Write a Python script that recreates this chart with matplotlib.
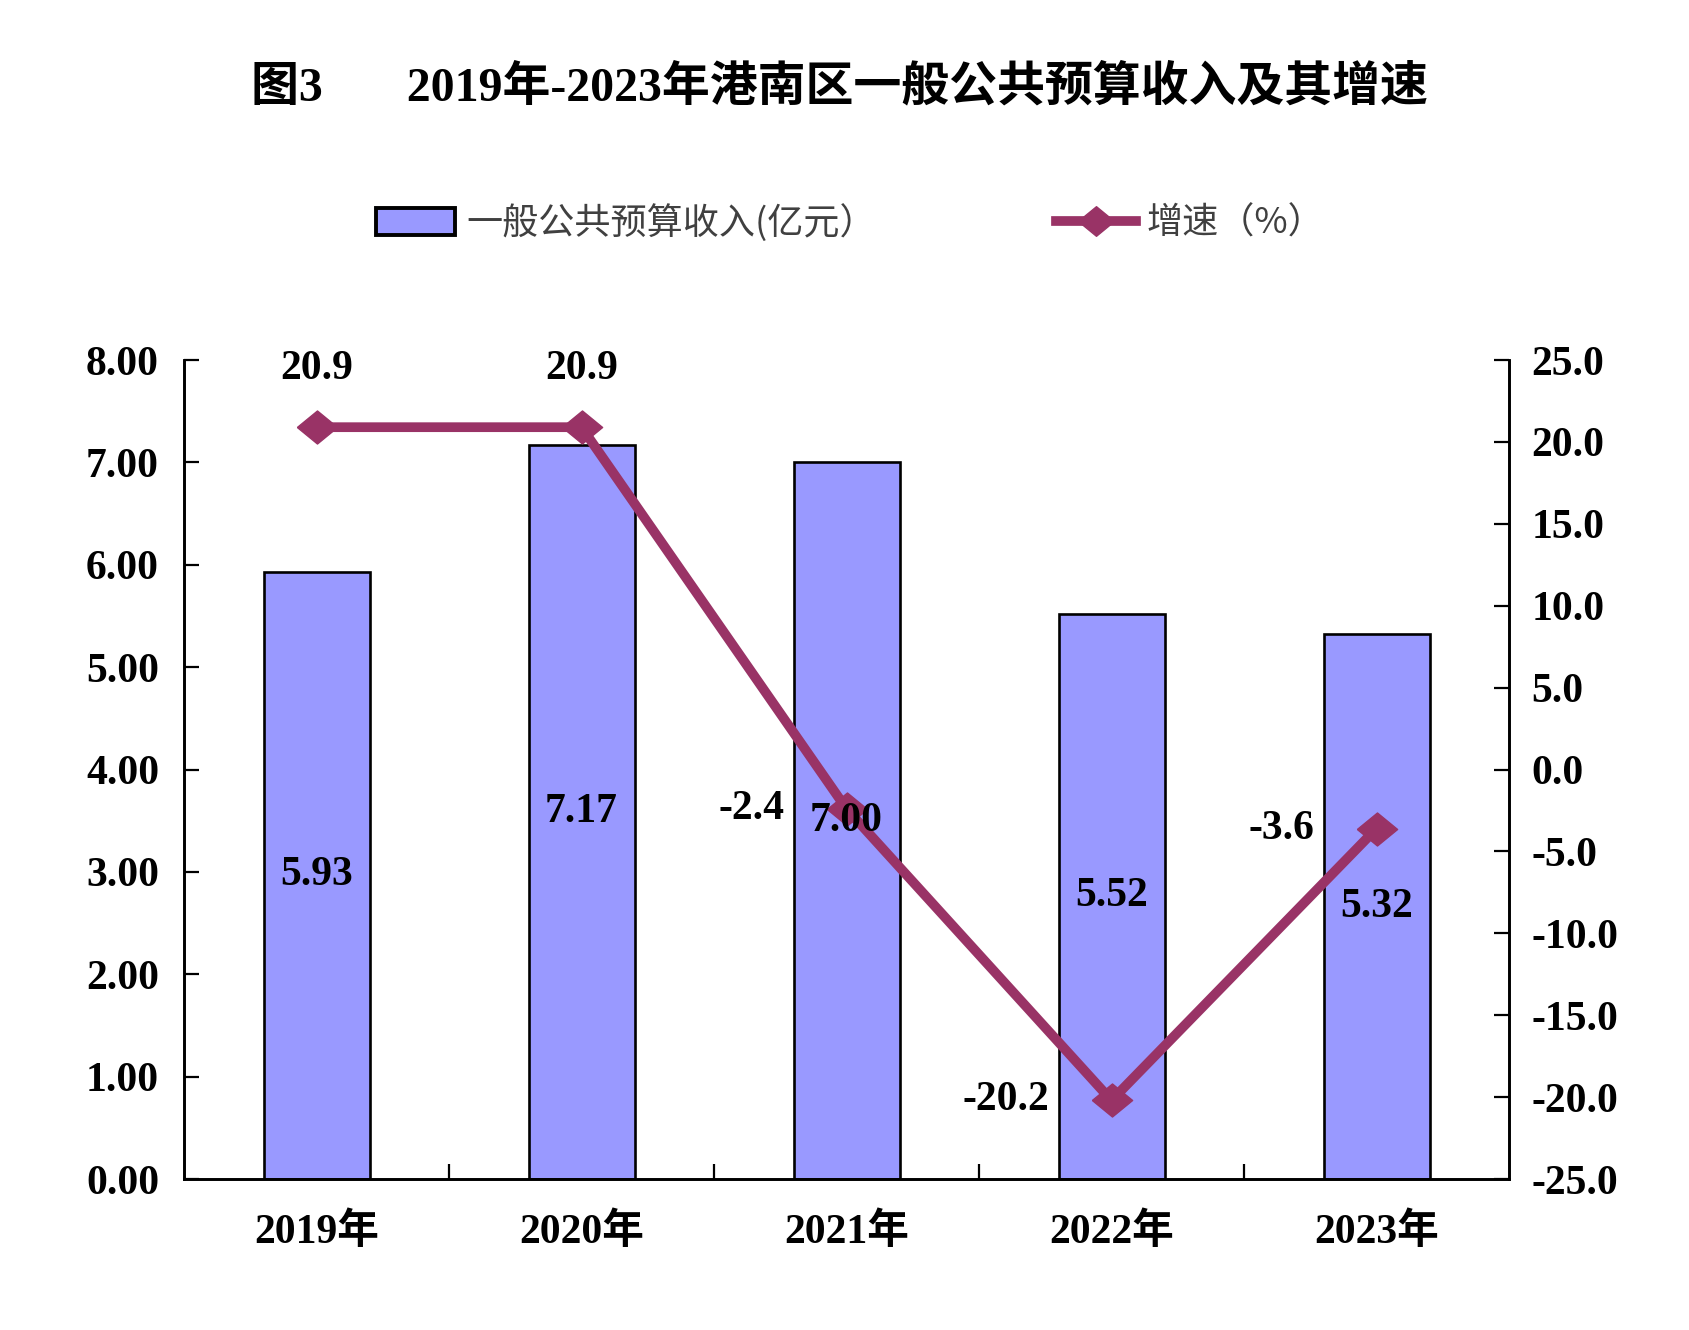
import numpy as np
import matplotlib
matplotlib.use("Agg")
import matplotlib.pyplot as plt
from matplotlib.patches import Patch
from matplotlib.lines import Line2D

years = ["2019年", "2020年", "2021年", "2022年", "2023年"]
revenue = [5.93, 7.17, 7.00, 5.52, 5.32]
growth = [20.9, 20.9, -2.4, -20.2, -3.6]
revenue_labels = ["5.93", "7.17", "7.00", "5.52", "5.32"]
growth_labels = ["20.9", "20.9", "-2.4", "-20.2", "-3.6"]

serif = ["Liberation Serif", "Noto Sans CJK SC"]
sans = ["Noto Sans CJK SC", "DejaVu Sans"]
bar_color = "#9999FF"
line_color = "#993366"
diamond = [(-1, 0), (0, 0.82), (1, 0), (0, -0.82), (-1, 0)]

fig = plt.figure(figsize=(16.9, 13.3), dpi=100)
ax = fig.add_axes([0.1089, 0.1135, 0.7840, 0.6158])
ax2 = ax.twinx()

x = np.arange(len(years))
ax.bar(x, revenue, width=0.4, color=bar_color, edgecolor="black", linewidth=1.9, zorder=2)
ax.set_xlim(-0.5, len(years) - 0.5)
ax.set_ylim(0, 8)
ax.set_yticks(np.arange(0, 8.01, 1))
ax.set_yticklabels([f"{v:.2f}" for v in np.arange(0, 8.01, 1)])
ax.set_xticks(x)
ax.set_xticklabels(years)
ax.set_xticks(np.arange(0.5, len(years) - 1, 1), minor=True)

ax2.plot(x, growth, color=line_color, linewidth=7, marker=diamond,
         markersize=29, zorder=3)
ax2.set_ylim(-25, 25)
ax2.set_yticks(np.arange(-25, 25.01, 5))
ax2.set_yticklabels([f"{v:.1f}" for v in np.arange(-25, 25.01, 5)])

# bar labels drawn on the top axes so they sit above the line
for xi, v, s in zip(x, revenue, revenue_labels):
    ax2.text(xi, v / 2, s, transform=ax.transData, ha="center", va="center",
             fontsize=30, fontweight="bold", family=serif, zorder=5)

for i, (v, s) in enumerate(zip(growth, growth_labels)):
    if v > 0:
        ax2.annotate(s, (x[i], v), xytext=(0, 58), textcoords="offset pixels",
                     ha="center", va="center", fontsize=30, fontweight="bold",
                     family=serif)
    else:
        ax2.annotate(s, (x[i], v), xytext=(-62, 0), textcoords="offset pixels",
                     ha="right", va="center", fontsize=30, fontweight="bold",
                     family=serif)

for a in (ax, ax2):
    a.spines["top"].set_visible(False)
    for sp in ("left", "right", "bottom"):
        a.spines[sp].set_linewidth(1.9)
    a.tick_params(which="both", direction="in", length=11, width=1.6, labelsize=30)
    for lab in a.get_yticklabels() + a.get_xticklabels():
        lab.set_fontfamily(serif)
        lab.set_fontweight("bold")
ax.tick_params(axis="x", which="major", length=0, pad=24)
ax.tick_params(axis="y", pad=18)
ax2.tick_params(axis="y", pad=16)

handles = [Patch(facecolor=bar_color, edgecolor="black", linewidth=2.8),
           Line2D([0], [0], color=line_color, linewidth=7, marker=diamond, markersize=26)]
fig.legend(handles, ["一般公共预算收入(亿元）", "增速（%）"], loc="center",
           bbox_to_anchor=(0.503, 1 - 223 / 1330), ncol=2, frameon=False,
           prop={"family": sans, "size": 26}, labelcolor="#404040",
           handlelength=2.2, handleheight=0.75, handletextpad=0.3, columnspacing=5.0)

fig.text(0.497, 1 - 88 / 1330, "图3       2019年-2023年港南区一般公共预算收入及其增速",
         ha="center", va="center", fontsize=34.5, fontweight="bold", family=serif)

fig.savefig("out.png", dpi=100)
